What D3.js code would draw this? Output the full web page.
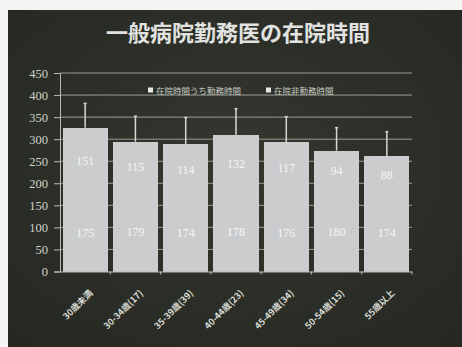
<!DOCTYPE html>
<html>
<head>
<meta charset="utf-8">
<script src="https://cdn.jsdelivr.net/npm/d3@7"></script>
<style>
  html, body { margin: 0; padding: 0; background: #f4f4f2; }
  svg { display: block; }
  .num { font-family: "Liberation Serif", "DejaVu Serif", serif; }
</style>
</head>
<body>
<script>
// Age groups (with respondent counts) and hours spent at the hospital
const categories = ["30歳未満", "30-34歳(17)", "35-39歳(39)", "40-44歳(23)", "45-49歳(34)", "50-54歳(15)", "55歳以上"];
const workHours = [175, 179, 174, 178, 176, 180, 174];
const nonWorkHours = [151, 115, 114, 132, 117, 94, 88];
const errorAmount = [55, 58, 61, 59, 58, 52, 55];
const yTicks = [0, 50, 100, 150, 200, 250, 300, 350, 400, 450];
const seriesNames = ["在院時間うち勤務時間", "在院非勤務時間"];
const title = "一般病院勤務医の在院時間";

const W = 462, H = 347;
const svg = d3.select("body").append("svg").attr("width", W).attr("height", H);

// slide background
const defs = svg.append("defs");
const grad = defs.append("radialGradient").attr("id", "bg").attr("cx", "50%").attr("cy", "45%").attr("r", "75%");
grad.append("stop").attr("offset", "0%").attr("stop-color", "#34372f");
grad.append("stop").attr("offset", "100%").attr("stop-color", "#252822");
svg.append("rect").attr("x", 8).attr("y", 10).attr("width", W - 8).attr("height", H - 10).attr("fill", "url(#bg)");

// title
svg.append("text")
  .attr("x", 238).attr("y", 41)
  .attr("text-anchor", "middle")
  .style("font-family", "'Noto Sans CJK JP'")
  .style("font-weight", "bold")
  .style("font-size", "22px")
  .attr("fill", "#e2e3e0")
  .text(title);

const margin = { left: 60, right: 50 };
const x = d3.scaleBand().domain(categories).range([margin.left, W - margin.right]).paddingInner(0.1).paddingOuter(0.05);
const y = d3.scaleLinear().domain([0, 450]).range([271.5, 73]);

const g = svg.append("g");

// horizontal gridlines
g.selectAll("line.grid").data(yTicks.slice(1)).join("line")
  .attr("x1", margin.left).attr("x2", W - margin.right)
  .attr("y1", d => y(d)).attr("y2", d => y(d))
  .attr("stroke", "#9a9d94").attr("stroke-width", 1);

// stacked bars (both segments share the same light fill)
const stackData = categories.map((c, i) => ({ cat: c, work: workHours[i], nonwork: nonWorkHours[i] }));
const stack = d3.stack().keys(["work", "nonwork"])(stackData);
g.selectAll("g.series").data(stack).join("g")
  .attr("fill", "#cacccd")
  .selectAll("rect").data(d => d).join("rect")
  .attr("x", d => x(d.data.cat))
  .attr("width", x.bandwidth())
  .attr("y", d => y(d[1]))
  .attr("height", d => y(d[0]) - y(d[1]) + 0.5)
  .attr("shape-rendering", "crispEdges");

// value labels inside each segment
stack.forEach(s => {
  g.selectAll(null).data(s).join("text")
    .attr("class", "num")
    .attr("x", d => x(d.data.cat) + x.bandwidth() / 2)
    .attr("y", d => y((d[0] + d[1]) / 2) + 4)
    .attr("text-anchor", "middle")
    .style("font-size", "12px")
    .attr("fill", "#f6f6f6")
    .text(d => d[1] - d[0]);
});

// error bars above totals
const totals = categories.map((c, i) => workHours[i] + nonWorkHours[i]);
const eg = g.selectAll("g.err").data(categories).join("g");
eg.append("line")
  .attr("x1", d => x(d) + x.bandwidth() / 2).attr("x2", d => x(d) + x.bandwidth() / 2)
  .attr("y1", (d, i) => y(totals[i])).attr("y2", (d, i) => y(totals[i] + errorAmount[i]))
  .attr("stroke", "#d6d8d4").attr("stroke-width", 1.5);
eg.append("line")
  .attr("x1", d => x(d) + x.bandwidth() / 2 - 1.5).attr("x2", d => x(d) + x.bandwidth() / 2 + 1.5)
  .attr("y1", (d, i) => y(totals[i] + errorAmount[i])).attr("y2", (d, i) => y(totals[i] + errorAmount[i]))
  .attr("stroke", "#d6d8d4").attr("stroke-width", 1.5);

// y axis
const yAxis = g.append("g").attr("transform", `translate(${margin.left},0)`)
  .call(d3.axisLeft(y).tickValues(yTicks).tickSize(6).tickPadding(6));
yAxis.attr("font-family", null);
yAxis.select(".domain").attr("stroke", "#b8bab4");
yAxis.selectAll(".tick line").attr("stroke", "#b8bab4");
yAxis.selectAll("text")
  .attr("class", "num")
  .style("font-size", "12.5px")
  .attr("fill", "#cfd1cc");

// x axis
const xAxis = g.append("g").attr("transform", `translate(0,${y(0)})`)
  .call(d3.axisBottom(x).tickSizeOuter(0).tickSize(3));
xAxis.select(".domain").attr("stroke", "#b8bab4").attr("d", `M${margin.left},0.5H${W - margin.right}`);
xAxis.selectAll(".tick line").attr("stroke", "#b8bab4").attr("transform", `translate(${x.bandwidth() / 2 + x.step() * 0.05},0)`);
xAxis.selectAll("text")
  .style("font-family", "'Noto Sans CJK JP'")
  .style("font-weight", "bold")
  .style("font-size", "9px")
  .attr("fill", "#d8dad4")
  .attr("text-anchor", "end")
  .attr("dx", 0).attr("dy", 0)
  .attr("transform", "translate(4,18) rotate(-45)");

// legend
const legend = svg.append("g").attr("transform", "translate(148,90)");
const legendX = [0, 118];
seriesNames.forEach((name, i) => {
  const lg = legend.append("g").attr("transform", `translate(${legendX[i]},0)`);
  lg.append("rect").attr("x", 0).attr("y", -2.5).attr("width", 5).attr("height", 5).attr("fill", "#e6e7e4");
  lg.append("text").attr("x", 8).attr("y", 3.5)
    .style("font-family", "'Noto Sans CJK JP'")
    .style("font-size", "8.5px")
    .attr("fill", "#c9cbc5")
    .text(name);
});
</script>
</body>
</html>
